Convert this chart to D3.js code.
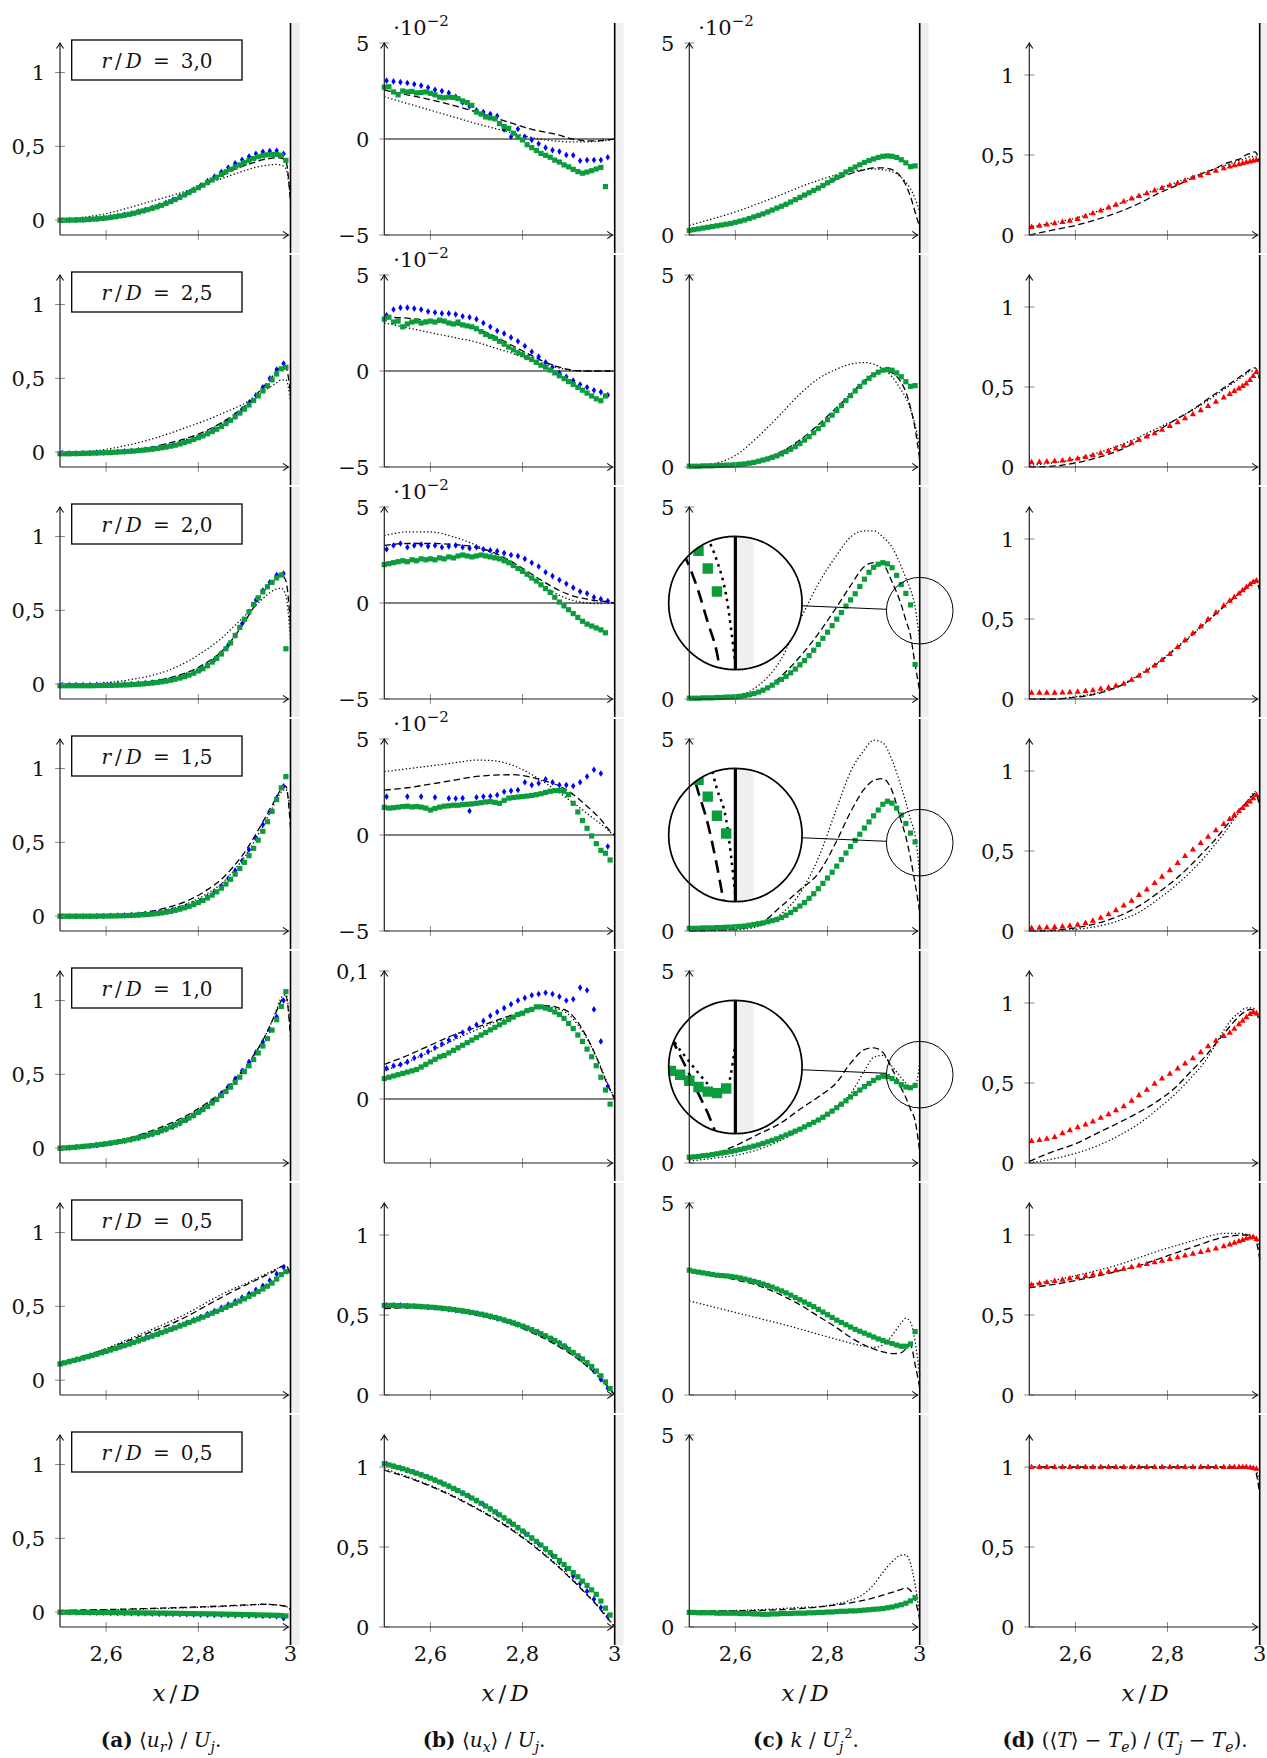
<!DOCTYPE html>
<html><head><meta charset="utf-8">
<script src="https://cdn.jsdelivr.net/npm/d3@7"></script>
<style>
body{margin:0;background:#fff;}
svg text{font-family:"DejaVu Serif","Liberation Serif",serif;fill:#111;}
</style></head><body>
<svg id="chart" width="1267" height="1758"></svg>
<script>
// ---------------- x grids ----------------
const MX = [2.50,2.51,2.52,2.53,2.54,2.55,2.56,2.57,2.58,2.59,
            2.60,2.61,2.62,2.63,2.64,2.65,2.66,2.67,2.68,2.69,
            2.70,2.71,2.72,2.73,2.74,2.75,2.76,2.77,2.78,2.79,
            2.80,2.81,2.82,2.83,2.84,2.85,2.86,2.87,2.88,2.89,
            2.90,2.91,2.92,2.93,2.94,2.95,2.96,2.97,2.98,2.99];
const BX = [2.505,2.52,2.535,2.55,2.565,2.58,2.595,2.61,2.625,2.64,2.655,2.67,2.685,2.70,2.715,2.73,2.745,
            2.76,2.775,2.79,2.805,2.82,2.835,2.85,2.865,2.88,2.895,2.91,2.925,2.94,2.955,2.97,2.985];
const RX = [2.505,2.522,2.538,2.555,2.572,2.588,2.605,2.622,2.638,2.655,2.672,2.688,2.705,2.722,2.738,2.755,2.772,
            2.788,2.805,2.822,2.838,2.855,2.872,2.888,2.905,2.922,2.935,2.945,2.955,2.963,2.971,2.979,2.986,2.993];
const LX = [2.50,2.55,2.60,2.65,2.70,2.74,2.78,2.82,2.85,2.88,2.90,2.92,2.94,2.96,2.97,2.98,2.99,3.00];

const rowLabels = ["3,0","2,5","2,0","1,5","1,0","0,5","0,5"];
const xTicks = [2.6, 2.8, 3];

// ---------------- row 0 : r/D = 3,0 ----------------
const A0g = [0.000,0.000,0.001,0.001,0.002,0.003,0.005,0.007,0.009,0.012,
             0.015,0.019,0.024,0.029,0.034,0.040,0.047,0.055,0.063,0.071,
             0.080,0.090,0.101,0.113,0.126,0.140,0.155,0.171,0.187,0.203,
             0.220,0.237,0.255,0.273,0.291,0.310,0.328,0.345,0.360,0.375,
             0.390,0.405,0.418,0.430,0.438,0.443,0.445,0.445,0.440,0.405];
const A0b = [0.000,0.001,0.002,0.004,0.006,0.010,0.014,0.020,0.027,0.036,0.046,0.058,0.070,0.084,0.100,0.118,0.138,
             0.160,0.184,0.208,0.234,0.265,0.296,0.327,0.357,0.385,0.410,0.432,0.450,0.463,0.469,0.470,0.450];
const A0d = [-0.005,0.003,0.015,0.04,0.08,0.125,0.185,0.25,0.30,0.345,0.37,0.39,0.41,0.42,0.425,0.42,0.40,0.12];
const A0o = [0.0,0.02,0.045,0.085,0.13,0.165,0.205,0.25,0.28,0.315,0.335,0.355,0.368,0.376,0.378,0.372,0.35,0.15];

const B0g = [2.70,2.72,2.45,2.30,2.50,2.45,2.48,2.40,2.42,2.45,
             2.38,2.30,2.18,2.15,2.18,2.16,2.10,1.98,1.90,1.75,
             1.40,1.30,1.15,1.10,1.05,0.80,0.65,0.55,0.30,0.10,
             -0.05,-0.30,-0.45,-0.60,-0.75,-0.85,-0.95,-1.10,-1.20,-1.35,
             -1.45,-1.58,-1.70,-1.78,-1.72,-1.65,-1.56,-1.48,-2.48,null];
const B0b = [3.04,3.00,2.96,2.92,2.85,2.78,2.68,2.56,2.50,2.40,2.20,1.90,1.70,1.50,1.40,1.30,1.20,
             0.50,0.12,0.52,0.12,-0.05,-0.25,-0.45,-0.58,-0.65,-0.83,-0.85,-1.13,-1.10,-1.09,-1.09,-0.95];
const B0d = [2.55,2.3,2.05,1.75,1.4,1.1,0.8,0.5,0.35,0.2,0.05,-0.05,-0.1,-0.1,-0.08,-0.05,-0.03,0];
const B0o = [2.2,1.85,1.5,1.15,0.8,0.55,0.3,0.08,-0.05,-0.12,-0.15,-0.15,-0.15,-0.12,-0.1,-0.08,-0.05,0];

const C0g = [0.12,0.14,0.16,0.18,0.20,0.22,0.24,0.26,0.28,0.30,
             0.33,0.36,0.39,0.43,0.47,0.51,0.55,0.60,0.65,0.70,
             0.75,0.80,0.86,0.92,0.98,1.04,1.10,1.16,1.22,1.29,
             1.36,1.43,1.50,1.57,1.64,1.71,1.77,1.83,1.89,1.94,
             1.98,2.02,2.05,2.06,2.05,2.02,1.96,1.88,1.78,1.80];
const C0d = [0.1,0.2,0.33,0.5,0.72,0.95,1.2,1.45,1.6,1.7,1.75,1.75,1.7,1.5,1.3,1.0,0.6,0.2];
const C0o = [0.25,0.42,0.6,0.82,1.05,1.25,1.42,1.57,1.65,1.7,1.72,1.7,1.65,1.5,1.38,1.2,0.95,0.6];

const D0r = [0.050,0.058,0.066,0.074,0.082,0.090,0.100,0.118,0.136,0.154,0.172,0.190,0.210,0.228,0.245,0.262,0.278,
             0.294,0.310,0.326,0.342,0.358,0.373,0.388,0.402,0.418,0.428,0.436,0.443,0.449,0.455,0.460,0.465,0.470];
const D0d = [0.0,0.03,0.06,0.1,0.15,0.2,0.26,0.31,0.35,0.39,0.41,0.44,0.46,0.48,0.5,0.51,0.52,0.45];
const D0o = [0.05,0.075,0.105,0.15,0.2,0.245,0.29,0.33,0.36,0.39,0.41,0.43,0.45,0.47,0.48,0.49,0.49,0.45];

// ---------------- row 1 : r/D = 2,5 ----------------
const A1g = [-0.010,-0.010,-0.010,-0.009,-0.009,-0.008,-0.007,-0.006,-0.005,-0.004,
             -0.003,-0.002,0.000,0.002,0.004,0.006,0.008,0.011,0.014,0.017,
             0.021,0.025,0.030,0.035,0.041,0.048,0.056,0.065,0.075,0.086,
             0.098,0.111,0.125,0.140,0.156,0.174,0.194,0.216,0.240,0.265,
             0.292,0.320,0.350,0.382,0.415,0.450,0.490,0.530,0.565,0.575];
const A1b = [-0.005,-0.008,-0.008,-0.006,-0.005,-0.003,-0.002,0.000,0.003,0.006,0.009,0.013,0.018,0.023,0.030,0.038,0.048,
             0.060,0.074,0.090,0.108,0.130,0.155,0.183,0.215,0.250,0.290,0.335,0.385,0.440,0.500,0.560,0.600];
const A1d = [-0.02,-0.015,-0.005,0.01,0.035,0.065,0.1,0.15,0.2,0.26,0.31,0.37,0.44,0.51,0.55,0.575,0.57,0.4];
const A1o = [-0.01,0.0,0.02,0.05,0.09,0.13,0.175,0.22,0.26,0.3,0.33,0.37,0.41,0.45,0.47,0.49,0.49,0.35];

const B1g = [2.70,2.80,2.55,2.60,2.30,2.45,2.55,2.60,2.50,2.55,
             2.60,2.55,2.65,2.60,2.50,2.45,2.55,2.40,2.35,2.30,
             2.20,2.05,1.90,1.80,1.70,1.55,1.40,1.25,1.10,0.95,
             0.85,0.70,0.60,0.45,0.30,0.20,0.05,-0.10,-0.25,-0.40,
             -0.55,-0.70,-0.85,-1.00,-1.15,-1.30,-1.45,-1.55,-1.30,null];
const B1b = [2.90,3.20,3.30,3.30,3.25,3.20,3.10,3.05,3.00,3.00,2.95,2.85,2.80,2.70,2.50,2.30,2.10,
             1.95,1.75,1.55,1.30,1.00,0.75,0.45,0.20,-0.10,-0.30,-0.50,-0.70,-0.85,-1.00,-1.10,-1.25];
const B1d = [2.8,2.75,2.6,2.45,2.2,1.8,1.3,0.8,0.45,0.2,0.08,0.02,0,0,0,0,0,0];
const B1o = [2.5,2.25,2.0,1.75,1.5,1.2,0.9,0.55,0.35,0.15,0.05,0,0,0,0,0,0,0];

const C1g = [0.02,0.02,0.02,0.03,0.03,0.03,0.04,0.04,0.05,0.05,
             0.06,0.07,0.08,0.10,0.12,0.15,0.18,0.21,0.25,0.29,
             0.34,0.40,0.46,0.53,0.61,0.70,0.79,0.89,1.00,1.11,
             1.23,1.35,1.47,1.60,1.73,1.86,1.98,2.10,2.21,2.31,
             2.40,2.47,2.52,2.54,2.52,2.45,2.35,2.22,2.10,2.12];
const C1d = [0.0,0.02,0.06,0.18,0.4,0.7,1.1,1.55,1.9,2.25,2.42,2.5,2.45,2.2,1.95,1.55,1.0,0.2];
const C1o = [0.02,0.08,0.3,0.8,1.4,1.9,2.3,2.55,2.68,2.72,2.68,2.55,2.35,2.0,1.8,1.5,1.1,0.5];

const D1r = [0.030,0.032,0.035,0.038,0.042,0.047,0.054,0.063,0.074,0.087,0.101,0.117,0.134,0.152,0.171,0.191,0.212,
             0.234,0.257,0.281,0.305,0.330,0.356,0.382,0.408,0.435,0.457,0.475,0.492,0.507,0.522,0.545,0.570,0.595];
const D1d = [0.0,0.005,0.025,0.06,0.11,0.17,0.23,0.3,0.35,0.41,0.45,0.49,0.53,0.57,0.59,0.61,0.62,0.55];
const D1o = [0.01,0.025,0.05,0.09,0.14,0.19,0.245,0.3,0.35,0.4,0.44,0.48,0.52,0.56,0.58,0.6,0.6,0.55];

// ---------------- row 2 : r/D = 2,0 ----------------
const A2g = [-0.010,-0.010,-0.010,-0.010,-0.010,-0.010,-0.010,-0.010,-0.009,-0.009,
             -0.008,-0.008,-0.007,-0.006,-0.005,-0.004,-0.002,0.000,0.002,0.005,
             0.008,0.012,0.016,0.021,0.027,0.034,0.042,0.051,0.062,0.075,
             0.090,0.105,0.125,0.150,0.175,0.205,0.240,0.280,0.330,0.385,
             0.440,0.490,0.540,0.585,0.625,0.660,0.690,0.720,0.740,0.240];
const A2b = [-0.005,-0.005,-0.005,-0.005,-0.005,-0.004,-0.004,-0.003,-0.002,0.000,0.002,0.005,0.008,0.012,0.018,0.025,0.035,
             0.047,0.060,0.077,0.100,0.128,0.165,0.210,0.265,0.330,0.410,0.490,0.570,0.635,0.690,0.740,0.750];
const A2d = [-0.01,-0.01,-0.005,0.005,0.02,0.045,0.085,0.15,0.22,0.33,0.42,0.52,0.62,0.7,0.73,0.74,0.7,0.4];
const A2o = [-0.01,0.0,0.01,0.03,0.06,0.1,0.16,0.24,0.31,0.4,0.46,0.52,0.58,0.63,0.645,0.65,0.6,0.3];

const B2g = [2.00,2.05,2.10,2.15,2.20,2.15,2.25,2.20,2.30,2.25,
             2.30,2.25,2.35,2.30,2.40,2.35,2.45,2.50,2.45,2.40,
             2.45,2.50,2.45,2.40,2.35,2.30,2.20,2.10,1.95,1.80,
             1.65,1.50,1.30,1.15,0.95,0.75,0.55,0.30,0.05,-0.15,
             -0.35,-0.55,-0.75,-0.95,-1.10,-1.20,-1.30,-1.40,-1.55,null];
const B2b = [2.80,3.00,3.10,2.90,3.00,3.05,2.95,3.00,2.90,2.95,3.00,2.90,2.85,2.90,2.80,2.75,2.70,
             2.60,2.50,2.45,2.30,2.10,1.90,1.60,1.40,1.20,1.00,0.80,0.60,0.50,0.30,0.20,0.10];
const B2d = [3.0,3.1,3.1,3.05,2.9,2.6,2.1,1.5,1.05,0.65,0.45,0.3,0.2,0.12,0.1,0.08,0.05,0];
const B2o = [3.5,3.7,3.7,3.45,3.0,2.5,1.9,1.25,0.8,0.4,0.2,0.08,0,-0.03,-0.03,-0.02,-0.01,0];

const C2g = [0.02,0.02,0.02,0.03,0.03,0.03,0.04,0.04,0.05,0.05,
             0.06,0.07,0.09,0.11,0.14,0.18,0.23,0.29,0.36,0.44,
             0.51,0.59,0.68,0.78,0.89,1.00,1.13,1.27,1.42,1.58,
             1.74,1.91,2.08,2.25,2.42,2.58,2.74,2.93,3.12,3.30,
             3.43,3.51,3.55,3.52,3.42,3.22,2.98,2.75,2.45,0.90];
const C2d = [0.0,0.0,0.03,0.15,0.6,1.1,1.7,2.4,2.95,3.45,3.55,3.5,3.05,2.45,2.05,1.65,0.9,0.2];
const C2o = [0.0,0.02,0.08,0.35,1.05,2.05,3.0,3.75,4.22,4.38,4.38,4.22,3.95,3.45,3.15,2.85,2.4,1.5];

const D2r = [0.040,0.040,0.040,0.040,0.041,0.043,0.046,0.050,0.056,0.064,0.073,0.083,0.096,0.121,0.146,0.177,0.210,
             0.244,0.282,0.325,0.368,0.412,0.456,0.499,0.542,0.585,0.615,0.638,0.660,0.680,0.700,0.718,0.732,0.742];
const D2d = [0.0,0.0,0.01,0.035,0.085,0.15,0.225,0.32,0.39,0.47,0.52,0.57,0.62,0.67,0.69,0.72,0.74,0.68];
const D2o = [0.0,0.0,0.015,0.04,0.09,0.155,0.23,0.325,0.395,0.47,0.52,0.575,0.625,0.67,0.695,0.72,0.74,0.7];

// ---------------- row 3 : r/D = 1,5 ----------------
const A3g = [0.000,0.000,0.000,0.000,0.000,0.000,0.000,0.000,0.000,0.001,
             0.001,0.002,0.002,0.003,0.004,0.005,0.006,0.008,0.010,0.012,
             0.015,0.018,0.022,0.027,0.033,0.040,0.048,0.057,0.067,0.079,
             0.092,0.107,0.124,0.143,0.165,0.190,0.218,0.250,0.285,0.323,
             0.365,0.410,0.460,0.515,0.575,0.640,0.710,0.790,0.870,0.945];
const A3b = [0.000,0.000,0.000,0.000,0.000,0.001,0.002,0.003,0.005,0.007,0.009,0.012,0.016,0.020,0.026,0.033,0.042,
             0.053,0.067,0.084,0.105,0.132,0.165,0.205,0.255,0.310,0.375,0.450,0.530,0.620,0.710,0.800,0.880];
const A3d = [0.0,0.0,0.005,0.015,0.035,0.065,0.11,0.18,0.25,0.35,0.43,0.53,0.64,0.75,0.81,0.86,0.88,0.6];
const A3o = [0.0,0.0,0.003,0.01,0.025,0.05,0.09,0.155,0.22,0.32,0.4,0.5,0.61,0.73,0.79,0.84,0.86,0.7];

const B3g = [1.44,1.40,1.42,1.45,1.48,1.50,1.46,1.48,1.45,1.40,
             1.30,1.38,1.45,1.50,1.52,1.55,1.55,1.58,1.60,1.62,
             1.65,1.68,1.72,1.74,1.70,1.65,1.80,1.92,1.95,1.98,
             2.00,2.03,2.06,2.10,2.15,2.22,2.28,2.31,2.32,2.28,
             2.10,1.65,1.20,0.75,0.35,-0.05,-0.45,-0.80,-0.95,-1.30];
const B3b = [2.00,null,null,2.00,null,2.00,null,1.96,null,1.91,1.90,1.92,1.25,1.97,2.00,2.02,2.08,
             2.25,2.30,2.34,2.75,2.60,2.70,2.90,2.75,2.60,2.60,2.55,2.75,3.05,3.40,3.20,-0.60];
const B3d = [2.34,2.46,2.65,2.85,3.05,3.12,3.14,3.0,2.8,2.55,2.28,1.92,1.5,1.05,0.8,0.5,0.2,0];
const B3o = [3.3,3.45,3.6,3.75,3.9,3.86,3.62,3.15,2.7,2.2,1.85,1.5,1.12,0.75,0.58,0.38,0.15,0];

const C3g = [0.07,0.07,0.07,0.08,0.08,0.08,0.09,0.09,0.10,0.10,
             0.11,0.12,0.13,0.15,0.17,0.19,0.21,0.24,0.27,0.30,
             0.35,0.41,0.48,0.56,0.65,0.74,0.85,0.97,1.10,1.24,
             1.38,1.53,1.69,1.86,2.03,2.20,2.36,2.52,2.68,2.84,
             3.00,3.15,3.30,3.38,3.33,3.20,3.02,2.80,2.55,2.32];
const C3d = [0.0,0.02,0.05,0.17,0.65,1.07,1.5,2.35,3.1,3.7,3.92,3.97,3.65,2.85,2.45,1.9,1.24,0.5];
const C3o = [0.0,0.01,0.03,0.12,0.45,0.98,1.9,3.2,4.15,4.72,4.97,4.9,4.45,3.75,3.35,2.9,2.5,1.5];

const D3r = [0.020,0.021,0.022,0.025,0.028,0.033,0.040,0.050,0.065,0.083,0.105,0.130,0.160,0.190,0.225,0.260,0.300,
             0.340,0.380,0.425,0.470,0.510,0.550,0.590,0.630,0.670,0.700,0.725,0.750,0.770,0.790,0.810,0.830,0.850];
const D3d = [0.0,0.005,0.02,0.05,0.1,0.16,0.24,0.33,0.41,0.5,0.56,0.63,0.7,0.77,0.8,0.83,0.86,0.78];
const D3o = [0.0,0.0,0.01,0.03,0.07,0.12,0.2,0.29,0.37,0.46,0.53,0.6,0.68,0.76,0.8,0.84,0.87,0.82];

// ---------------- row 4 : r/D = 1,0 ----------------
const A4g = [0.000,0.002,0.004,0.006,0.009,0.012,0.015,0.018,0.022,0.026,
             0.030,0.035,0.040,0.045,0.051,0.057,0.064,0.071,0.079,0.088,
             0.097,0.107,0.118,0.130,0.143,0.157,0.172,0.188,0.205,0.223,
             0.242,0.262,0.283,0.306,0.330,0.356,0.384,0.414,0.446,0.481,
             0.518,0.558,0.600,0.645,0.692,0.742,0.800,0.870,0.960,1.060];
const A4b = [0.000,0.004,0.008,0.012,0.016,0.021,0.027,0.034,0.042,0.050,0.060,0.070,0.082,0.095,0.110,0.127,0.146,
             0.168,0.192,0.220,0.252,0.287,0.326,0.370,0.418,0.470,0.525,0.585,0.650,0.720,0.800,0.890,1.000];
const A4d = [0.0,0.012,0.035,0.07,0.12,0.17,0.23,0.31,0.38,0.47,0.54,0.63,0.73,0.86,0.93,1.0,1.03,0.75];
const A4o = [0.0,0.01,0.03,0.06,0.11,0.16,0.22,0.3,0.37,0.46,0.53,0.62,0.73,0.86,0.94,1.02,1.04,0.8];

const B4g = [0.016,0.017,0.018,0.019,0.020,0.021,0.022,0.023,0.025,0.027,
             0.029,0.031,0.033,0.034,0.036,0.038,0.040,0.042,0.044,0.046,
             0.048,0.050,0.052,0.054,0.056,0.058,0.060,0.062,0.064,0.066,
             0.067,0.069,0.070,0.072,0.072,0.071,0.070,0.068,0.066,0.063,
             0.059,0.055,0.050,0.045,0.039,0.033,0.026,0.017,0.007,-0.004];
const B4b = [0.024,0.026,0.027,0.029,0.032,0.034,0.037,0.040,0.043,0.046,0.049,0.052,0.055,0.058,0.061,0.065,0.068,
             0.071,0.074,0.077,0.079,0.081,0.082,0.083,0.082,0.080,0.077,0.078,0.087,0.085,0.070,0.045,0.010];
const B4d = [0.027,0.034,0.042,0.05,0.056,0.061,0.066,0.071,0.073,0.071,0.068,0.06,0.048,0.033,0.024,0.015,0.007,0.0];
const B4o = [0.022,0.029,0.037,0.046,0.054,0.06,0.065,0.07,0.072,0.07,0.066,0.058,0.047,0.033,0.025,0.016,0.008,0.0];

const C4g = [0.15,0.16,0.17,0.19,0.20,0.22,0.24,0.26,0.28,0.30,
             0.32,0.35,0.38,0.41,0.44,0.47,0.51,0.55,0.59,0.63,
             0.68,0.73,0.78,0.83,0.88,0.94,1.00,1.06,1.12,1.19,
             1.27,1.35,1.44,1.53,1.62,1.72,1.81,1.90,1.99,2.07,
             2.15,2.22,2.26,2.25,2.20,2.12,2.04,1.98,1.96,2.02];
const C4d = [0.1,0.22,0.45,0.75,1.05,1.4,1.72,2.1,2.6,2.95,3.0,2.88,2.45,1.95,1.7,1.4,1.1,0.3];
const C4o = [0.05,0.12,0.2,0.35,0.6,0.85,1.15,1.48,1.8,2.4,2.75,2.8,2.52,2.22,2.08,1.97,2.0,2.6];

const D4r = [0.138,0.145,0.152,0.163,0.187,0.205,0.224,0.242,0.260,0.283,0.306,0.330,0.356,0.390,0.424,0.458,0.496,
             0.528,0.558,0.592,0.622,0.656,0.693,0.730,0.765,0.795,0.815,0.840,0.868,0.890,0.912,0.932,0.945,0.935];
const D4d = [0.01,0.07,0.12,0.19,0.26,0.32,0.39,0.48,0.57,0.66,0.73,0.8,0.87,0.93,0.95,0.96,0.95,0.88];
const D4o = [0.0,0.025,0.06,0.11,0.18,0.25,0.34,0.44,0.53,0.63,0.72,0.82,0.9,0.95,0.97,0.97,0.96,0.9];

// ---------------- row 5 : r/D = 0,5 ----------------
const A5g = [0.110,0.118,0.126,0.134,0.142,0.150,0.159,0.168,0.177,0.186,
             0.195,0.205,0.215,0.225,0.235,0.245,0.256,0.267,0.278,0.289,
             0.300,0.311,0.322,0.333,0.344,0.355,0.367,0.379,0.391,0.403,
             0.415,0.427,0.440,0.453,0.466,0.479,0.493,0.507,0.521,0.536,
             0.551,0.567,0.583,0.600,0.618,0.637,0.658,0.685,0.715,0.735];
const A5b = [0.115,0.127,0.140,0.152,0.165,0.178,0.192,0.206,0.221,0.236,0.252,0.268,0.284,0.300,0.317,0.334,0.352,
             0.370,0.389,0.408,0.428,0.448,0.469,0.490,0.512,0.535,0.560,0.585,0.612,0.640,0.675,0.720,0.765];
const A5d = [0.11,0.16,0.21,0.27,0.33,0.38,0.44,0.51,0.56,0.61,0.64,0.67,0.7,0.73,0.75,0.77,0.78,0.7];
const A5o = [0.11,0.16,0.215,0.28,0.345,0.4,0.46,0.53,0.58,0.625,0.65,0.68,0.71,0.74,0.755,0.77,0.775,0.72];

const B5g = [0.560,0.560,0.560,0.559,0.558,0.557,0.556,0.555,0.553,0.551,
             0.549,0.547,0.544,0.541,0.538,0.534,0.530,0.526,0.521,0.516,
             0.511,0.505,0.499,0.492,0.485,0.477,0.469,0.460,0.451,0.441,
             0.431,0.420,0.408,0.396,0.383,0.369,0.355,0.340,0.324,0.307,
             0.285,0.265,0.245,0.225,0.202,0.178,0.150,0.120,0.082,0.040];
const B5b = [0.560,0.560,0.560,0.557,0.555,0.552,0.549,0.545,0.541,0.536,0.530,0.524,0.517,0.509,0.500,0.490,0.479,
             0.467,0.454,0.440,0.425,0.408,0.390,0.370,0.348,0.324,0.297,0.266,0.232,0.193,0.148,0.097,0.042];
const B5d = [0.54,0.545,0.54,0.525,0.5,0.475,0.44,0.39,0.35,0.3,0.265,0.225,0.18,0.13,0.1,0.07,0.035,0.0];
const B5o = [0.55,0.555,0.55,0.535,0.51,0.485,0.45,0.4,0.355,0.305,0.268,0.225,0.18,0.128,0.098,0.066,0.033,0.0];

const C5g = [3.25,3.22,3.20,3.18,3.16,3.14,3.12,3.11,3.10,3.09,
             3.07,3.05,3.02,2.99,2.96,2.93,2.89,2.85,2.81,2.76,
             2.71,2.66,2.60,2.54,2.48,2.42,2.36,2.30,2.23,2.16,
             2.09,2.02,1.95,1.89,1.83,1.77,1.71,1.66,1.61,1.56,
             1.51,1.46,1.42,1.38,1.34,1.30,1.27,1.27,1.33,1.65];
const C5d = [3.2,3.15,3.0,2.85,2.6,2.35,2.05,1.75,1.5,1.3,1.2,1.12,1.08,1.1,1.2,1.3,0.8,0.2];
const C5o = [2.45,2.3,2.15,2.0,1.85,1.72,1.58,1.45,1.35,1.27,1.24,1.3,1.55,1.88,2.0,1.9,1.4,0.5];

const D5r = [0.690,0.698,0.705,0.713,0.721,0.729,0.737,0.745,0.754,0.763,0.772,0.781,0.790,0.800,0.810,0.820,0.830,
             0.840,0.851,0.862,0.873,0.884,0.895,0.906,0.917,0.930,0.942,0.952,0.962,0.970,0.978,0.985,0.988,0.975];
const D5d = [0.67,0.69,0.715,0.745,0.78,0.81,0.85,0.89,0.92,0.95,0.97,0.985,0.995,1.0,1.0,1.0,0.98,0.85];
const D5o = [0.69,0.715,0.745,0.78,0.82,0.86,0.9,0.935,0.96,0.985,1.0,1.01,1.01,1.01,1.005,1.0,0.99,0.9];

// ---------------- row 6 : r/D = 0,5 (second) ----------------
const A6g = [0.000,0.000,0.000,0.000,-0.001,-0.001,-0.001,-0.001,-0.002,-0.002,
             -0.002,-0.002,-0.003,-0.003,-0.003,-0.004,-0.004,-0.004,-0.005,-0.005,
             -0.005,-0.006,-0.006,-0.006,-0.007,-0.007,-0.008,-0.008,-0.009,-0.009,
             -0.010,-0.010,-0.011,-0.011,-0.012,-0.012,-0.013,-0.014,-0.014,-0.015,
             -0.016,-0.016,-0.017,-0.018,-0.019,-0.019,-0.020,-0.021,-0.022,-0.025];
const A6b = [0.000,0.000,-0.001,-0.002,-0.003,-0.003,-0.004,-0.005,-0.006,-0.006,-0.007,-0.008,-0.009,-0.010,-0.011,-0.012,-0.012,
             -0.013,-0.014,-0.015,-0.016,-0.017,-0.018,-0.019,-0.020,-0.021,-0.022,-0.023,-0.024,-0.025,-0.026,-0.028,-0.040];
const A6d = [0.01,0.015,0.018,0.022,0.026,0.03,0.034,0.038,0.042,0.046,0.049,0.052,0.054,0.052,0.049,0.045,0.04,0.02];
const A6o = [0.008,0.012,0.015,0.019,0.023,0.027,0.031,0.035,0.039,0.043,0.046,0.05,0.053,0.052,0.05,0.046,0.04,0.02];

const B6g = [1.020,1.013,1.005,0.997,0.989,0.980,0.971,0.961,0.951,0.941,
             0.930,0.918,0.906,0.893,0.880,0.866,0.852,0.837,0.822,0.806,
             0.790,0.773,0.756,0.738,0.720,0.701,0.682,0.662,0.642,0.621,
             0.600,0.579,0.557,0.535,0.512,0.489,0.465,0.441,0.416,0.391,
             0.366,0.340,0.314,0.287,0.260,0.232,0.204,0.162,0.118,0.075];
const B6b = [1.020,1.005,0.993,0.980,0.966,0.951,0.936,0.918,0.900,0.880,0.859,0.837,0.814,0.790,0.765,0.738,0.710,
             0.682,0.652,0.621,0.589,0.555,0.520,0.484,0.446,0.405,0.362,0.318,0.272,0.224,0.174,0.122,0.066];
const B6d = [0.98,0.935,0.88,0.815,0.74,0.675,0.6,0.515,0.445,0.37,0.315,0.26,0.2,0.14,0.105,0.07,0.035,0.0];
const B6o = [0.99,0.94,0.885,0.82,0.745,0.68,0.605,0.52,0.45,0.375,0.32,0.265,0.205,0.145,0.11,0.075,0.038,0.0];

const C6g = [0.38,0.38,0.37,0.37,0.37,0.37,0.36,0.36,0.36,0.36,
             0.36,0.35,0.35,0.35,0.34,0.34,0.33,0.33,0.34,0.34,
             0.35,0.35,0.35,0.36,0.36,0.36,0.37,0.37,0.38,0.38,
             0.39,0.39,0.40,0.41,0.41,0.42,0.42,0.43,0.44,0.45,
             0.46,0.47,0.48,0.50,0.52,0.55,0.58,0.62,0.68,0.76];
const C6d = [0.42,0.42,0.42,0.43,0.45,0.48,0.52,0.58,0.63,0.7,0.76,0.83,0.9,0.98,1.02,0.95,0.7,0.2];
const C6o = [0.42,0.42,0.43,0.45,0.48,0.51,0.53,0.6,0.7,0.87,1.1,1.42,1.7,1.87,1.88,1.65,1.1,0.3];

const D6r = [1.000,1.000,1.000,1.000,1.000,1.000,1.000,1.000,1.000,1.000,1.000,1.000,1.000,1.000,1.000,1.000,1.000,
             1.000,1.000,1.000,1.000,1.000,1.000,1.000,1.000,1.000,1.000,1.000,1.000,1.000,1.000,0.998,0.995,0.990];
const D6d = [1,1,1,1,1,1,1,1,1,1,1,1,1,1,1,1,0.98,0.83];
const D6o = [1,1,1,1,1,1,1,1,1,1,1,1,1,1,1,1,0.99,0.9];

// ---------------- collections ----------------
const Ag=[A0g,A1g,A2g,A3g,A4g,A5g,A6g], Ab=[A0b,A1b,A2b,A3b,A4b,A5b,A6b], Ad=[A0d,A1d,A2d,A3d,A4d,A5d,A6d], Ao=[A0o,A1o,A2o,A3o,A4o,A5o,A6o];
const Bg=[B0g,B1g,B2g,B3g,B4g,B5g,B6g], Bb=[B0b,B1b,B2b,B3b,B4b,B5b,B6b], Bd=[B0d,B1d,B2d,B3d,B4d,B5d,B6d], Bo=[B0o,B1o,B2o,B3o,B4o,B5o,B6o];
const Cg=[C0g,C1g,C2g,C3g,C4g,C5g,C6g], Cd=[C0d,C1d,C2d,C3d,C4d,C5d,C6d], Co=[C0o,C1o,C2o,C3o,C4o,C5o,C6o];
const Dr=[D0r,D1r,D2r,D3r,D4r,D5r,D6r], Dd=[D0d,D1d,D2d,D3d,D4d,D5d,D6d], Do=[D0o,D1o,D2o,D3o,D4o,D5o,D6o];

// ---------------- layout (pixels) ----------------
const colX = [[60,290.5],[384.3,614.7],[689.3,919.7],[1029.3,1259.7]];
const rowTop = r => 43 + 232*r, rowBot = r => 235 + 232*r;
const GREEN = "#0b9c3c", BLUE = "#0000ff", RED = "#ff0000";

const svg = d3.select('#chart');
const defs = svg.append('defs');
const gContent = svg.append('g');
const gMag = svg.append('g');
const gAxes = svg.append('g');

function fmt(v){ return (v<0?'\u2212':'') + String(Math.abs(v)).replace('.', ','); }

function drawLine(g, vals, x, y, kind){
  const line = d3.line().defined(d=>d[1]!=null).x(d=>x(d[0])).y(d=>y(d[1])).curve(d3.curveMonotoneX);
  const p = g.append('path').datum(vals.map((v,i)=>[LX[i],v])).attr('d', line)
    .attr('fill','none').attr('stroke','#000');
  if (kind==='dash') p.attr('stroke-width',1.3).attr('stroke-dasharray','6.5,3.5');
  else p.attr('stroke-width',1.25).attr('stroke-dasharray','1.3,2.3');
}
const SHAPES = {
  sq: "M-2.6,-2.6h5.2v5.2h-5.2z",
  di: "M0,-3.3L2.2,0L0,3.3L-2.2,0Z",
  tr: "M0,-3.4L3.1,2.1L-3.1,2.1Z"
};
function drawMarkers(g, xs, vals, x, y, shape, color){
  g.append('g').selectAll('path')
    .data(vals.map((v,i)=>[xs[i],v]).filter(d=>d[1]!=null))
    .join('path').attr('d', SHAPES[shape]).attr('fill', color)
    .attr('transform', d=>`translate(${x(d[0])},${y(d[1])})`);
}
function upArrow(g, px, py){
  g.append('path').attr('d', `M${px-3.6},${py+5.5} Q${px-1},${py+2} ${px},${py} Q${px+1},${py+2} ${px+3.6},${py+5.5}`)
   .attr('fill','none').attr('stroke','#111').attr('stroke-width',1.1);
}
function rightArrow(g, px, py){
  g.append('path').attr('d', `M${px-5.5},${py-3.6} Q${px-2},${py-1} ${px},${py} Q${px-2},${py+1} ${px-5.5},${py+3.6}`)
   .attr('fill','none').attr('stroke','#111').attr('stroke-width',1.1);
}

function panelConfig(r, c){
  if (c===0) return {dom:[-0.1,1.2], ticks:[0,0.5,1]};
  if (c===1){
    if (r<=3) return {dom:[-5,5], ticks:[-5,0,5], exp:true, zero:true};
    if (r===4) return {dom:[-0.05,0.1], ticks:[0,0.1], zero:true};
    return {dom:[0,1.2], ticks:[0,0.5,1]};
  }
  if (c===2) return {dom:[0,5], ticks:[0,5], exp: r===0};
  return {dom:[0,1.2], ticks:[0,0.5,1]};
}

const scales = {};
for (let r=0; r<7; r++){
  for (let c=0; c<4; c++){
    const cfg = panelConfig(r,c);
    const x = d3.scaleLinear().domain([2.5,3]).range(colX[c]);
    const y = d3.scaleLinear().domain(cfg.dom).range([rowBot(r), rowTop(r)]);
    scales[r+'-'+c] = {x,y,cfg};
    const g = gContent.append('g').attr('id', `content-${r}-${c}`);
    g.append('rect').attr('x', x(3)).attr('y', 23+232*r).attr('width', 9).attr('height', 230).attr('fill','#efefef');
    if (cfg.zero) g.append('line').attr('x1', colX[c][0]).attr('x2', x(3)).attr('y1', y(0)).attr('y2', y(0))
                    .attr('stroke','#000').attr('stroke-width',1);
    if (c===0){ drawLine(g, Ad[r], x, y, 'dash'); drawLine(g, Ao[r], x, y, 'dot');
                drawMarkers(g, BX, Ab[r], x, y, 'di', BLUE); drawMarkers(g, MX, Ag[r], x, y, 'sq', GREEN); }
    if (c===1){ drawLine(g, Bd[r], x, y, 'dash'); drawLine(g, Bo[r], x, y, 'dot');
                drawMarkers(g, BX, Bb[r], x, y, 'di', BLUE); drawMarkers(g, MX, Bg[r], x, y, 'sq', GREEN); }
    if (c===2){ drawLine(g, Cd[r], x, y, 'dash'); drawLine(g, Co[r], x, y, 'dot');
                drawMarkers(g, MX, Cg[r], x, y, 'sq', GREEN); }
    if (c===3){ drawLine(g, Dd[r], x, y, 'dash'); drawLine(g, Do[r], x, y, 'dot');
                drawMarkers(g, RX, Dr[r], x, y, 'tr', RED); }
    g.append('line').attr('x1', x(3)).attr('x2', x(3)).attr('y1', 23+232*r).attr('y2', 253+232*r)
      .attr('stroke','#000').attr('stroke-width',1.6);
  }
}

// ---------------- magnifiers (column c, rows 2-4) ----------------
[2,3,4].forEach(r=>{
  const {x,y} = scales[r+'-2'];
  const sx = x(3.0), sy = y(2.3), bx = x(2.6), by = y(2.5);
  const rs = 33.3, rb = 66.7;
  const id = 'spy'+r;
  defs.append('clipPath').attr('id', id).append('circle').attr('cx',bx).attr('cy',by).attr('r',rb);
  const g = gMag.append('g').attr('clip-path', `url(#${id})`);
  g.append('circle').attr('cx',bx).attr('cy',by).attr('r',rb).attr('fill','#fff');
  g.append('use').attr('href', `#content-${r}-2`)
    .attr('transform', `translate(${bx},${by}) scale(2) translate(${-sx},${-sy})`);
  gMag.append('circle').attr('cx',bx).attr('cy',by).attr('r',rb).attr('fill','none').attr('stroke','#000').attr('stroke-width',1.7);
  gMag.append('circle').attr('cx',sx).attr('cy',sy).attr('r',rs).attr('fill','none').attr('stroke','#000').attr('stroke-width',1);
  const dx = sx-bx, dy = sy-by, L = Math.hypot(dx,dy), ux = dx/L, uy = dy/L;
  gMag.append('line').attr('x1', bx+ux*rb).attr('y1', by+uy*rb).attr('x2', sx-ux*rs).attr('y2', sy-uy*rs)
    .attr('stroke','#000').attr('stroke-width',1);
});

// ---------------- axes, ticks, labels ----------------
for (let r=0; r<7; r++){
  for (let c=0; c<4; c++){
    const {x,y,cfg} = scales[r+'-'+c];
    const X0 = colX[c][0], yB = rowBot(r), yT = rowTop(r);
    const g = gAxes.append('g');
    cfg.ticks.forEach(v=>{
      g.append('line').attr('x1',X0-5).attr('x2',X0+5).attr('y1',y(v)).attr('y2',y(v)).attr('stroke','#888').attr('stroke-width',1);
      g.append('text').attr('x',X0-15).attr('y',y(v)+7.5).attr('text-anchor','end').attr('font-size',21).text(fmt(v));
    });
    [2.6,2.8].forEach(v=>{
      g.append('line').attr('x1',x(v)).attr('x2',x(v)).attr('y1',yB-5).attr('y2',yB+5).attr('stroke','#888').attr('stroke-width',1);
    });
    g.append('line').attr('x1',X0).attr('x2',X0).attr('y1',yB).attr('y2',yT+0.5).attr('stroke','#222').attr('stroke-width',1.2);
    upArrow(g, X0, yT);
    g.append('line').attr('x1',X0).attr('x2',x(3)-2.5).attr('y1',yB).attr('y2',yB).attr('stroke','#222').attr('stroke-width',1.2);
    rightArrow(g, x(3)-2, yB);
    if (cfg.exp){
      const t = g.append('text').attr('x', X0+9).attr('y', yT-8).attr('font-size',21);
      t.append('tspan').text('\u00b710');
      t.append('tspan').attr('baseline-shift','9').attr('font-size',15).text('\u22122');
    }
    if (r===6){
      xTicks.forEach(v=>{
        g.append('text').attr('x', x(v)).attr('y', 1661).attr('text-anchor','middle').attr('font-size',21).text(fmt(v));
      });
    }
  }
  gAxes.append('rect').attr('x',71.7).attr('y',40+232*r).attr('width',170.3).attr('height',40)
    .attr('fill','#fff').attr('stroke','#000').attr('stroke-width',1.3);
  const t = gAxes.append('text').attr('x',157).attr('y',67.5+232*r).attr('text-anchor','middle').attr('font-size',20);
  t.append('tspan').attr('font-style','italic').text('r');
  t.append('tspan').attr('dx',4).text('/');
  t.append('tspan').attr('dx',4).attr('font-style','italic').text('D');
  t.append('tspan').attr('dx',11).text('=');
  t.append('tspan').attr('dx',11).text(rowLabels[r]);
}

// x/D labels
[176,505,805,1145].forEach(cx=>{
  const t = gAxes.append('text').attr('x',cx).attr('y',1701).attr('text-anchor','middle').attr('font-size',23);
  t.append('tspan').attr('font-style','italic').text('x');
  t.append('tspan').attr('dx',4).text('/');
  t.append('tspan').attr('dx',4).attr('font-style','italic').text('D');
});

// captions
function caption(cx, parts){
  const t = gAxes.append('text').attr('x',cx).attr('y',1747).attr('text-anchor','middle').attr('font-size',20);
  parts.forEach(p=>{
    const s = t.append('tspan').text(p.t);
    if (p.b) s.attr('font-weight','bold');
    if (p.i) s.attr('font-style','italic');
    if (p.sub) s.attr('baseline-shift','-5').attr('font-size',14);
    if (p.sup) s.attr('baseline-shift','9').attr('font-size',13);
    if (p.dx) s.attr('dx',p.dx);
  });
}
caption(161, [{t:'(a)',b:1},{t:' \u27e8'},{t:'u',i:1},{t:'r',i:1,sub:1},{t:'\u27e9 / '},{t:'U',i:1},{t:'j',i:1,sub:1},{t:'.'}]);
caption(484, [{t:'(b)',b:1},{t:' \u27e8'},{t:'u',i:1},{t:'x',i:1,sub:1},{t:'\u27e9 / '},{t:'U',i:1},{t:'j',i:1,sub:1},{t:'.'}]);
caption(806, [{t:'(c)',b:1},{t:' '},{t:'k',i:1},{t:' / '},{t:'U',i:1},{t:'j',i:1,sub:1},{t:'2',sup:1,dx:1},{t:'.'}]);
caption(1125,[{t:'(d)',b:1},{t:' (\u27e8'},{t:'T',i:1},{t:'\u27e9 \u2212 '},{t:'T',i:1},{t:'e',i:1,sub:1},{t:') / ('},
              {t:'T',i:1},{t:'j',i:1,sub:1},{t:' \u2212 '},{t:'T',i:1},{t:'e',i:1,sub:1},{t:').'}]);
</script>
</body></html>
